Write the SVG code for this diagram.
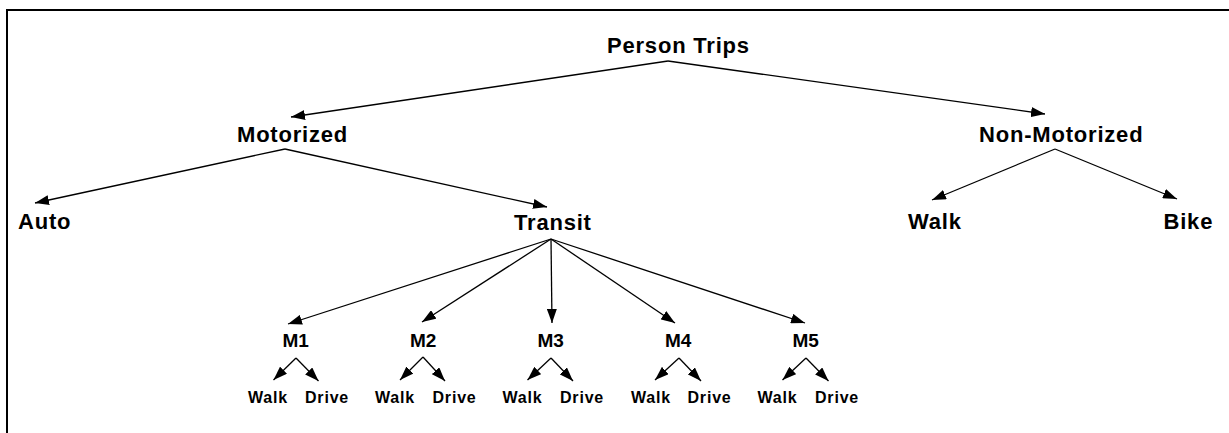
<svg xmlns="http://www.w3.org/2000/svg" width="1229" height="433" viewBox="0 0 1229 433">
<style>
.lbl{font-family:"Liberation Sans",Arial,sans-serif;font-weight:bold;fill:#000}
.big{font-size:22px;letter-spacing:0.8px}
.mid{font-size:19px}
.sm{font-size:16px;letter-spacing:0.8px}
.con line{stroke:#000;stroke-width:1.3;marker-end:url(#ah)}
</style>
<defs>
<marker id="ah" markerUnits="userSpaceOnUse" markerWidth="14" markerHeight="10" refX="14" refY="5" orient="auto">
<path d="M0,0 L14,5 L0,10 z" fill="#000"/>
</marker>
</defs>
<rect x="0" y="0" width="1229" height="433" fill="#fff"/>
<rect x="7" y="10" width="1400" height="600" fill="none" stroke="#000" stroke-width="2"/>
<g class="con" id="connectors">
<line x1="668" y1="61" x2="291" y2="117"/>
<line x1="668" y1="61" x2="1045" y2="114"/>
<line x1="285" y1="149" x2="35" y2="203"/>
<line x1="285" y1="149" x2="547" y2="207"/>
<line x1="1055" y1="149" x2="932" y2="200"/>
<line x1="1055" y1="149" x2="1177" y2="199"/>
<line x1="551" y1="239" x2="288" y2="324"/>
<line x1="551" y1="239" x2="422" y2="322"/>
<line x1="551" y1="239" x2="552" y2="323"/>
<line x1="551" y1="239" x2="675" y2="323"/>
<line x1="551" y1="239" x2="805" y2="323"/>
<line x1="296" y1="358" x2="273.5" y2="380"/>
<line x1="296" y1="358" x2="318.5" y2="381"/>
<line x1="423" y1="357" x2="400" y2="380"/>
<line x1="423" y1="357" x2="445" y2="381"/>
<line x1="551" y1="358" x2="527.5" y2="380"/>
<line x1="551" y1="358" x2="573" y2="381"/>
<line x1="679" y1="358" x2="655" y2="380"/>
<line x1="679" y1="358" x2="701" y2="381"/>
<line x1="806" y1="358" x2="782.5" y2="380"/>
<line x1="806" y1="358" x2="828.5" y2="381"/>
</g>
<g id="person-trips"><text class="lbl big" x="607" y="53">Person Trips</text></g>
<g id="motorized"><text class="lbl big" x="237" y="141.5">Motorized</text></g>
<g id="non-motorized"><text class="lbl big" x="979" y="141.5">Non-Motorized</text></g>
<g id="auto"><text class="lbl big" x="18" y="228.5">Auto</text></g>
<g id="transit"><text class="lbl big" x="514" y="229.5">Transit</text></g>
<g id="walk"><text class="lbl big" x="908" y="229">Walk</text></g>
<g id="bike"><text class="lbl big" x="1163.5" y="229">Bike</text></g>
<g id="m1"><text class="lbl mid" x="282.5" y="346.5">M1</text></g>
<g id="m2"><text class="lbl mid" x="410" y="346.5">M2</text></g>
<g id="m3"><text class="lbl mid" x="537.5" y="346.5">M3</text></g>
<g id="m4"><text class="lbl mid" x="665" y="346.5">M4</text></g>
<g id="m5"><text class="lbl mid" x="792.5" y="346.5">M5</text></g>
<g id="m1-walk"><text class="lbl sm" x="248" y="403">Walk</text></g>
<g id="m1-drive"><text class="lbl sm" x="305" y="403">Drive</text></g>
<g id="m2-walk"><text class="lbl sm" x="375" y="403">Walk</text></g>
<g id="m2-drive"><text class="lbl sm" x="432.5" y="403">Drive</text></g>
<g id="m3-walk"><text class="lbl sm" x="502.5" y="403">Walk</text></g>
<g id="m3-drive"><text class="lbl sm" x="560" y="403">Drive</text></g>
<g id="m4-walk"><text class="lbl sm" x="631" y="403">Walk</text></g>
<g id="m4-drive"><text class="lbl sm" x="687.5" y="403">Drive</text></g>
<g id="m5-walk"><text class="lbl sm" x="757.5" y="403">Walk</text></g>
<g id="m5-drive"><text class="lbl sm" x="815" y="403">Drive</text></g>
</svg>
